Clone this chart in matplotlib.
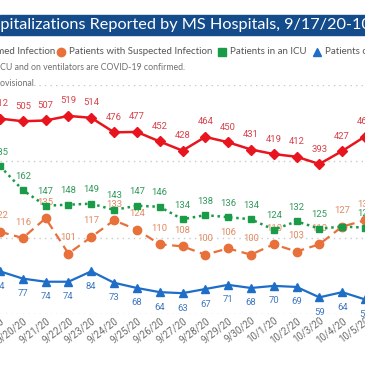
import matplotlib
matplotlib.use('Agg')
import matplotlib.pyplot as plt
from matplotlib import font_manager
from matplotlib.lines import Line2D
from matplotlib.patches import Rectangle

# values (only the visible window, 9/19 - 10/5)
dates = ['9/19/20', '9/20/20', '9/21/20', '9/22/20', '9/23/20', '9/24/20', '9/25/20',
         '9/26/20', '9/27/20', '9/28/20', '9/29/20', '9/30/20', '10/1/20', '10/2/20',
         '10/3/20', '10/4/20', '10/5/20']
confirmed = [512, 505, 507, 519, 514, 476, 477, 452, 428, 464, 450, 431, 419, 412, 393, 427, 465]
suspected = [122, 116, 135, 101, 117, 133, 124, 110, 108, 100, 106, 100, 110, 103, 110, 127, 133]
icu = [185, 162, 147, 148, 149, 143, 147, 146, 134, 138, 136, 134, 124, 132, 125, 127, 126]
ventilator = [84, 77, 74, 74, 84, 73, 68, 64, 63, 67, 71, 68, 70, 69, 59, 64, 57]
icu_hidden_labels = ['10/4/20']

RED, RED_LBL = '#e8141e', '#d8424b'
ORANGE, ORANGE_LBL = '#e8703a', '#e08a62'
GREEN, GREEN_LBL = '#1a9b48', '#32995c'
BLUE, BLUE_LBL = '#1e6ec8', '#4079c0'
NAVY = '#144b8b'

# a narrow face for the numbers if one is installed
names = {f.name for f in font_manager.fontManager.ttflist}
if 'Liberation Sans Narrow' in names:
    num_kw = dict(family='Liberation Sans Narrow')
    num_size, tick_size = 7.4, 7.6
else:
    num_kw = dict(family='Roboto')
    num_size, tick_size = 6.8, 7.0

W = H = 365
fig = plt.figure(figsize=(3.65, 3.65), dpi=100)
renderer = fig.canvas.get_renderer()


def fx(px):
    return px / W


def fy(py):
    return 1 - py / H


def text_width(s, **kw):
    t = fig.text(0, 0, s, **kw)
    w = t.get_window_extent(renderer).width
    t.remove()
    return w


# plot area (the original chart is cropped, so the axes run past both edges)
ax = fig.add_axes([0, fy(314), 1, fy(85) - fy(314)])
ax2 = ax.twinx()
x = list(range(len(dates)))

ax.set_xlim(0.144, 15.77)
ax.set_ylim(0, 600)
ax2.set_ylim(43, 263)

ax.set_yticks([0, 200, 400, 600])
ax.grid(axis='y', color='#c9c9c9', linestyle=(0, (1, 3)), linewidth=1)
ax.tick_params(axis='y', left=False, labelleft=False)
ax2.set_yticks([])
for a in (ax, ax2):
    for s in a.spines.values():
        s.set_visible(False)

ax.set_xticks(x)
ax.set_xticklabels(dates, rotation=37, ha='right', rotation_mode='anchor',
                   fontsize=tick_size, color='#6a6a6a', **num_kw)
ax.tick_params(axis='x', length=0, pad=1)

# lines
ax.plot(x, confirmed, color=RED, lw=1.8, marker='D', ms=5.5, zorder=3)
ax2.plot(x, suspected, color=ORANGE, lw=1.6, ls=(0, (4, 2.5)), marker='o', ms=6, zorder=2)
ax2.plot(x, icu, color=GREEN, lw=1.8, ls=(0, (1, 1.5)), marker='s', ms=5, zorder=4)
ax2.plot(x, ventilator, color=BLUE, lw=1.6, marker='^', ms=6, zorder=4)

# data labels
lbl = dict(ha='center', va='center', fontsize=num_size,
           textcoords='offset pixels', annotation_clip=False, **num_kw)
for i, v in enumerate(confirmed):
    ax.annotate(str(v), (i, v), xytext=(0, 15), color=RED_LBL, **lbl)
for i, v in enumerate(suspected):
    ax2.annotate(str(v), (i, v), xytext=(0, 16), color=ORANGE_LBL, zorder=3, **lbl)
for i, v in enumerate(icu):
    if dates[i] in icu_hidden_labels:
        continue
    ax2.annotate(str(v), (i, v), xytext=(0, 14), color=GREEN_LBL, zorder=5, **lbl)
for i, v in enumerate(ventilator):
    ax2.annotate(str(v), (i, v), xytext=(0, -15), color=BLUE_LBL, zorder=5, **lbl)

# title bar
fig.add_artist(Rectangle((0, fy(35)), 1, fy(15) - fy(35), transform=fig.transFigure,
                         color=NAVY, zorder=0))
title_kw = dict(fontsize=11.7, family='Lato', color='white', va='center')
title = 'COVID-19 Hospitalizations Reported by MS Hospitals, 9/17/20-10/7/20'
fig.text(fx(-text_width('COVID-19 Hos', **title_kw)), fy(25), title, **title_kw)

# legend row
leg_kw = dict(fontsize=7.0, family='Lato', color='#555555', va='center')
first = 'Patients with Confirmed Infection'
fig.text(fx(55), fy(52), first, ha='right', **leg_kw)
fig.add_artist(Line2D([fx(55 - text_width(first, **leg_kw) - 7)], [fy(52)], marker='D', ms=5,
                      color=RED, ls='none', transform=fig.transFigure))
entries = [(61, 'o', ORANGE, 'Patients with Suspected Infection'),
           (222, 's', GREEN, 'Patients in an ICU'),
           (317, '^', BLUE, 'Patients on Ventilators')]
for px, mk, col, name in entries:
    fig.add_artist(Line2D([fx(px)], [fy(52)], marker=mk, ms=6, color=col, ls='none',
                          transform=fig.transFigure))
    fig.text(fx(px + 8), fy(52), name, ha='left', **leg_kw)

# notes
note_kw = dict(fontsize=6.3, family='Lato', color='#707070', va='center')
note1 = 'Patients in ICU and on ventilators are COVID-19 confirmed.'
fig.text(fx(-text_width('Patients in I', **note_kw)), fy(68), note1, **note_kw)
note2 = 'All data are provisional.'
fig.text(fx(-text_width('All data are pr', **note_kw)), fy(83), note2,
         bbox=dict(facecolor='white', edgecolor='none', pad=0.5), **note_kw)

fig.savefig('out.png', dpi=100)
